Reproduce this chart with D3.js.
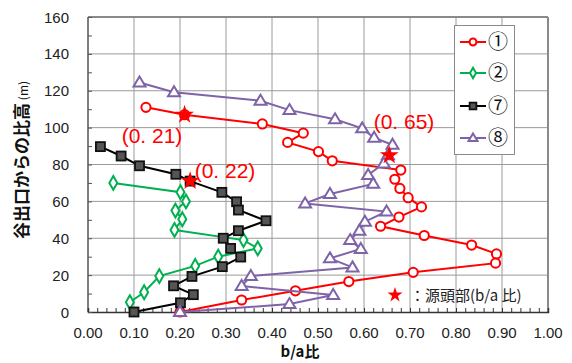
<!DOCTYPE html>
<html><head><meta charset="utf-8">
<script src="https://cdn.jsdelivr.net/npm/d3@7"></script>
<style>body{margin:0;background:#fff}svg{display:block}</style>
</head><body>
<svg id="c" width="572" height="363"></svg>
<script>
// ---- data ----
const xTicks = [0, 0.1, 0.2, 0.3, 0.4, 0.5, 0.6, 0.7, 0.8, 0.9, 1.0];
const yTicks = [0, 20, 40, 60, 80, 100, 120, 140, 160];
const seriesNames = ["①", "②", "⑦", "⑧"];

const redX = [0.126, 0.21, 0.379, 0.468, 0.434, 0.501, 0.531, 0.680, 0.667, 0.678, 0.696, 0.725, 0.676, 0.636, 0.731, 0.834, 0.888, 0.886, 0.707, 0.567, 0.451, 0.334, 0.20];
const redY = [111, 107, 102, 97, 92, 87, 82, 77, 72, 67, 62, 57, 51.5, 46.5, 41.5, 36.3, 31.5, 26.5, 21.5, 16.5, 11.5, 6.5, 0];

const greenX = [0.055, 0.201, 0.213, 0.19, 0.205, 0.188, 0.338, 0.369, 0.283, 0.233, 0.155, 0.122, 0.091];
const greenY = [70, 65, 60, 55, 50.3, 44.5, 39, 34.5, 30, 25, 19.5, 10.7, 5.3];

const blackX = [0.027, 0.072, 0.112, 0.191, 0.222, 0.291, 0.323, 0.327, 0.387, 0.327, 0.294, 0.31, 0.332, 0.292, 0.226, 0.186, 0.229, 0.201, 0.10];
const blackY = [89.7, 84.6, 79.3, 74.7, 71, 64.9, 59.8, 55.3, 49.5, 44.1, 40, 34.5, 29.8, 24.6, 19.3, 14.2, 9.4, 5, 0];

const purpleX = [0.112, 0.187, 0.375, 0.438, 0.537, 0.596, 0.622, 0.662, 0.652, 0.643, 0.609, 0.620, 0.526, 0.472, 0.649, 0.602, 0.59, 0.57, 0.593, 0.526, 0.575, 0.354, 0.334, 0.533, 0.438, 0.20];
const purpleY = [124.5, 119.2, 114.6, 109.5, 104.5, 99.6, 94.5, 90.7, 85, 80.6, 74.3, 69.5, 64, 58.9, 54.5, 49, 44.1, 39, 34.2, 29.1, 24.2, 19.5, 14.1, 9.2, 4.3, 0];

const starX = [0.21, 0.222, 0.655];
const starY = [107, 71, 85];
const starLabels = ["(0. 21)", "(0. 22)", "(0. 65)"];

// ---- layout ----
const svg = d3.select("#c");
const L = 88, R = 548, T = 17, B = 312;
const x = d3.scaleLinear().domain([0, 1]).range([L, R]);
const y = d3.scaleLinear().domain([0, 160]).range([B, T]);

// gridlines
const g = svg.append("g");
g.selectAll(".vg").data(xTicks.slice(1, -1)).enter().append("line")
  .attr("x1", d => x(d)).attr("x2", d => x(d)).attr("y1", T).attr("y2", B)
  .attr("stroke", "#9a9a9a").attr("stroke-width", 1);
g.selectAll(".hg").data(yTicks.slice(1, -1)).enter().append("line")
  .attr("x1", L).attr("x2", R).attr("y1", d => y(d)).attr("y2", d => y(d))
  .attr("stroke", "#9a9a9a").attr("stroke-width", 1);
// border
g.append("line").attr("x1", L).attr("x2", R).attr("y1", T).attr("y2", T).attr("stroke", "#8a8a8a").attr("stroke-width", 2);
g.append("line").attr("x1", R).attr("x2", R).attr("y1", T).attr("y2", B).attr("stroke", "#8a8a8a").attr("stroke-width", 2);
g.append("line").attr("x1", L).attr("x2", L).attr("y1", T).attr("y2", B).attr("stroke", "#555").attr("stroke-width", 1.5);

// axes with d3 (ticks inward)
const xAxis = d3.axisBottom(x).tickValues(d3.range(0, 1.0001, 0.02)).tickSize(-4).tickFormat("");
const xg = svg.append("g").attr("transform", `translate(0,${B})`).call(xAxis);
xg.select(".domain").attr("stroke", "#333").attr("stroke-width", 1.5);
xg.selectAll(".tick line").attr("stroke", "#333");
const yAxis = d3.axisLeft(y).tickValues(d3.range(0, 161, 10)).tickSize(-4).tickFormat("");
const yg = svg.append("g").attr("transform", `translate(${L},0)`).call(yAxis);
yg.select(".domain").remove();
yg.selectAll(".tick line").attr("stroke", "#555");

// tick labels
const tf = "'Liberation Sans', Arial, sans-serif";
svg.selectAll(".xl").data(xTicks).enter().append("text")
  .attr("x", d => x(d)).attr("y", 338).attr("text-anchor", "middle")
  .attr("font-family", tf).attr("font-size", 15).attr("fill", "#222")
  .text(d => d.toFixed(2));
svg.selectAll(".yl").data(yTicks).enter().append("text")
  .attr("x", 69).attr("y", d => y(d) + 5.5).attr("text-anchor", "end")
  .attr("font-family", tf).attr("font-size", 15).attr("fill", "#222")
  .text(d => d);

// axis titles
svg.append("text").attr("x", 300).attr("y", 357).attr("text-anchor", "middle")
  .attr("font-family", "'Noto Sans CJK JP', sans-serif").attr("font-weight", "bold")
  .attr("font-size", 15).attr("fill", "#111").text("b/a比");
const yt = svg.append("text").attr("transform", "translate(28,160) rotate(-90)")
  .attr("text-anchor", "middle").attr("font-family", "'Noto Sans CJK JP', sans-serif")
  .attr("font-weight", "bold").attr("font-size", 17).attr("fill", "#111");
yt.append("tspan").text("谷出口からの比高");
yt.append("tspan").attr("font-size", 12).attr("font-weight", "normal").attr("dx", 3).text("(m)");

// series
const series = [
  {xs: redX, ys: redY, color: "#ff0000", shape: "circle"},
  {xs: greenX, ys: greenY, color: "#00b050", shape: "diamond"},
  {xs: blackX, ys: blackY, color: "#000000", shape: "square"},
  {xs: purpleX, ys: purpleY, color: "#7f63a8", shape: "triangle"}
];
function marker(sel, shape, color, scale) {
  scale = scale || 1;
  if (shape === "circle") {
    sel.append("circle").attr("r", 4.6 * scale).attr("fill", "#fff").attr("stroke", color).attr("stroke-width", 2);
  } else if (shape === "diamond") {
    sel.append("path").attr("d", d3.symbol(d3.symbolDiamond, 55 * scale * scale)()).attr("fill", "#fff").attr("stroke", color).attr("stroke-width", 2);
  } else if (shape === "square") {
    const s = 9 * scale;
    sel.append("rect").attr("x", -s / 2).attr("y", -s / 2).attr("width", s).attr("height", s)
      .attr("fill", "#555").attr("stroke", "#111").attr("stroke-width", 1.8);
  } else {
    const w = 12 * scale, h = 10 * scale;
    sel.append("path").attr("d", `M0,${-h * 0.6}L${w / 2},${h * 0.4}L${-w / 2},${h * 0.4}Z`)
      .attr("fill", "#fff").attr("stroke", color).attr("stroke-width", 2);
  }
}
const line = d3.line().x(d => x(d[0])).y(d => y(d[1]));
series.forEach(s => {
  const pts = s.xs.map((v, i) => [v, s.ys[i]]);
  const sg = svg.append("g");
  sg.append("path").attr("d", line(pts)).attr("fill", "none").attr("stroke", s.color).attr("stroke-width", 2);
  pts.forEach(p => {
    const m = sg.append("g").attr("transform", `translate(${x(p[0])},${y(p[1])})`);
    marker(m, s.shape, s.color);
  });
});

// stars
const star = d3.symbol(d3.symbolStar, 110)();
starX.forEach((v, i) => {
  svg.append("path").attr("d", star).attr("transform", `translate(${x(v)},${y(starY[i])})`).attr("fill", "#ff0000");
});
const labelPos = [[152, 143], [225, 178], [404, 129]];
starLabels.forEach((t, i) => {
  svg.append("text").attr("x", labelPos[i][0]).attr("y", labelPos[i][1]).attr("text-anchor", "middle")
    .attr("font-family", "'Liberation Sans Narrow', 'Liberation Sans', sans-serif").attr("font-size", 21)
    .attr("fill", "#ff0000").text(t);
});

// legend
const lg = svg.append("g");
lg.append("rect").attr("x", 454.5).attr("y", 25.5).attr("width", 60).attr("height", 129)
  .attr("fill", "#fff").attr("stroke", "#8a8a8a").attr("stroke-width", 1);
const legY = [42, 73, 106, 138];
series.forEach((s, i) => {
  lg.append("line").attr("x1", 460).attr("x2", 486).attr("y1", legY[i]).attr("y2", legY[i])
    .attr("stroke", s.color).attr("stroke-width", 2);
  const m = lg.append("g").attr("transform", `translate(473,${legY[i]})`);
  marker(m, s.shape, s.color, 0.75);
  lg.append("text").attr("x", 498).attr("y", legY[i] + 7).attr("text-anchor", "middle")
    .attr("font-family", "'Noto Sans CJK JP', sans-serif").attr("font-size", 20).attr("fill", "#111")
    .text(seriesNames[i]);
});

// source note
svg.append("path").attr("d", d3.symbol(d3.symbolStar, 70)()).attr("transform", "translate(395,295)").attr("fill", "#ff0000");
svg.append("text").attr("x", 410).attr("y", 300.5)
  .attr("font-family", "'Noto Sans CJK JP', sans-serif").attr("font-size", 15).attr("fill", "#222")
  .text("：源頭部(b/a 比)");
</script>
</body></html>
